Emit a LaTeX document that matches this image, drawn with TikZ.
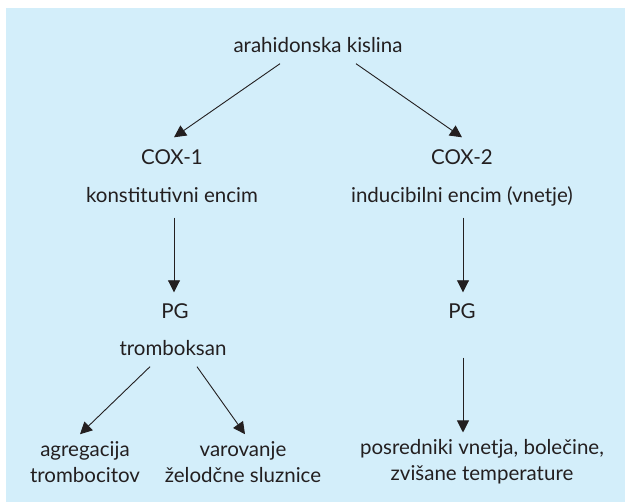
\documentclass[tikz,border=0pt]{standalone}
\usepackage{fontspec}
\setmainfont{Lato}
\usetikzlibrary{arrows.meta}
\definecolor{panelblue}{RGB}{211,238,250}
\definecolor{inkgray}{RGB}{35,31,32}
\tikzset{
  lbl/.style={inner sep=0pt, text=inkgray, font=\fontsize{20.5}{26}\selectfont, align=center},
  one/.style={lbl, text height=15pt, text depth=4pt},
  arr/.style={draw=inkgray, line width=0.9pt, -{Triangle[length=12pt,width=12pt]}}
}
\begin{document}
\begin{tikzpicture}[x=1pt,y=-1pt]
\useasboundingbox (0,0) rectangle (625,502);
\fill[panelblue] (6,8) rectangle (625,502);
% nodes
\node[one] (acid) at (318,47) {arahidonska kislina};
\node[one] (cox1) at (172,159) {COX-1};
\node[one] (enz1) at (172,197) {konstitutivni encim};
\node[one] (cox2) at (462,159) {COX-2};
\node[one] (enz2) at (462,197) {inducibilni encim (vnetje)};
\node[one] (pg1) at (175,313) {PG};
\node[one] (txa) at (173,350) {tromboksan};
\node[one] (pg2) at (462,313) {PG};
\node[lbl] (aggr) at (85,462) {agregacija\\trombocitov};
\node[lbl] (prot) at (243,462) {varovanje\\želodčne sluznice};
\node[lbl] (infl) at (482,462) {posredniki vnetja, bolečine,\\zvišane temperature};
% arrows
\draw[arr] ([xshift=-38pt,yshift=-7pt]acid.south) -- ([xshift=2pt,yshift=12pt]cox1.north);
\draw[arr] ([xshift=38pt,yshift=-7pt]acid.south) -- ([yshift=12pt]cox2.north);
\draw[arr] ([xshift=2pt,yshift=-11pt]enz1.south) -- ([xshift=-1pt,yshift=11pt]pg1.north);
\draw[arr] ([xshift=1pt,yshift=-11pt]enz2.south) -- ([xshift=1pt,yshift=11pt]pg2.north);
\draw[arr] ([xshift=-23pt,yshift=-7pt]txa.south) -- ([xshift=-5pt,yshift=7pt]aggr.north);
\draw[arr] ([xshift=24pt,yshift=-7pt]txa.south) -- ([xshift=2pt,yshift=7pt]prot.north);
\draw[arr] ([xshift=1pt,yshift=-35pt]pg2.south) -- ([xshift=1pt,yshift=7pt]infl.north -| pg2.south);
\end{tikzpicture}
\end{document}
